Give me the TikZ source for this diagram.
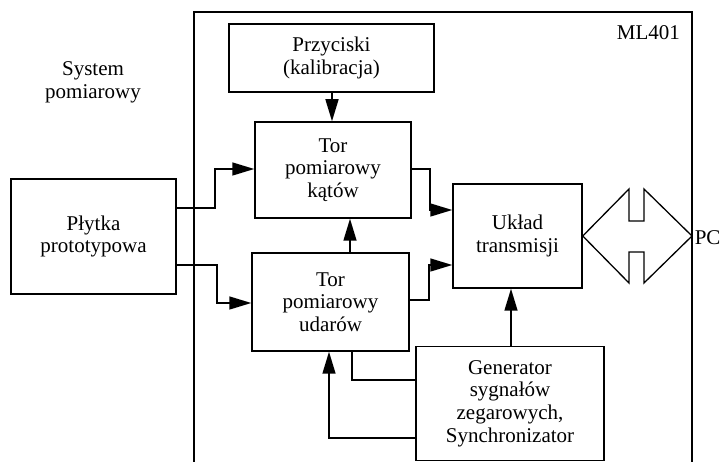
\documentclass[tikz,border=0pt]{standalone}
\usepackage{fontspec}
\setmainfont{Liberation Serif}
\usepackage{tikz}
\usetikzlibrary{arrows.meta}

\begin{document}
\begin{tikzpicture}[x=1pt,y=-1pt,line width=1.5pt,
  blok/.style={draw,align=center,font=\fontsize{21}{22.7}\selectfont},
  opis/.style={align=center,font=\fontsize{21}{22.7}\selectfont},
  arr/.style={-{Triangle[length=22pt,width=13pt]}}]
\useasboundingbox (0,0) rectangle (721,462);

%Frame of the board
\draw (194,462)--(194,12)--(692,12)--(692,462);
\node[opis,anchor=east] (ml) at (684,33){ML401};
\node[opis] (system) at (93,82){System\\pomiarowy};

%Blocks
\node[blok,minimum width=205,minimum height=68] (przyciski) at (331.5,58){Przyciski\\(kalibracja)};
\node[blok,minimum width=156,minimum height=96] (katy) at (333,170){Tor\\pomiarowy\\kątów};
\node[blok,minimum width=165,minimum height=115] (plytka) at (93.5,236.5){Płytka\\prototypowa};
\node[blok,minimum width=157,minimum height=98] (udary) at (330.5,302){Tor\\pomiarowy\\udarów};
\node[blok,minimum width=129,minimum height=104] (transmisja) at (517.5,236){Układ\\transmisji};
\node[blok,minimum width=188,minimum height=114] (generator) at (510,403.5){Generator\\sygnałów\\zegarowych,\\Synchronizator};
\node[opis,anchor=west,inner sep=1pt] (pc) at (693,238){PC};

%Connections
\draw[arr] (332,0 |- przyciski.south)--(332,0 |- katy.north);
\draw[arr] (plytka.east |- 0,208)--(215,208) |- (katy.west |- 0,169);
\draw[arr] (plytka.east |- 0,265)--(217,265) |- (udary.west |- 0,303);
\draw[arr] (350,0 |- udary.north)--(350,0 |- katy.south);
\draw[arr] (katy.east |- 0,169)--(430,169) |- (transmisja.west |- 0,210);
\draw[arr] (udary.east |- 0,300)--(429,300) |- (transmisja.west |- 0,265);
\draw[arr] (511,0 |- generator.north)--(511,0 |- transmisja.south);
\draw (generator.west |- 0,380) -| (352,0 |- udary.south);
\draw[arr] (generator.west |- 0,438) -| (329,0 |- udary.south);

%Link to PC
\draw[line width=1.3pt] (transmisja.east)--(629,189)--(629,221)--(644,221)--(644,189)--(692,236)
  --(644,283)--(644,252)--(629,252)--(629,283)--cycle;

\end{tikzpicture}
\end{document}
